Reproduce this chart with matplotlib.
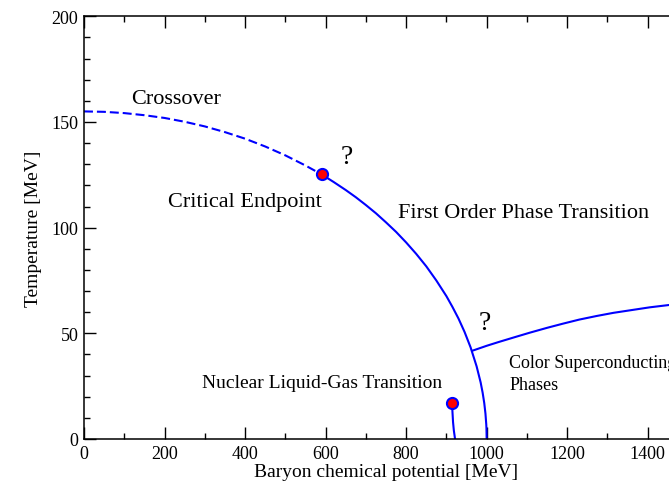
import matplotlib
matplotlib.use("Agg")
import matplotlib.pyplot as plt
from matplotlib.ticker import MultipleLocator

plt.rcParams["font.family"] = ["Liberation Serif", "DejaVu Serif"]

# crossover line (dashed) from mu=0 to the critical endpoint
cross_mu = [0, 50, 100, 150, 200, 250, 300, 350, 400, 450, 500, 550, 590]
cross_T = [155.0, 154.8, 154.2, 153.2, 151.9, 150.1, 147.9, 145.2, 142.1,
           138.4, 134.2, 129.4, 125.2]

# first order line from the critical endpoint down to the T=0 axis
first_mu = [590, 620, 650, 675, 700, 725, 750, 775, 800, 825, 850, 875, 900,
            915, 930, 945, 960, 975, 985, 990, 994, 997, 999, 999.5, 1000]
first_T = [125.2, 121.6, 117.8, 114.4, 110.7, 106.8, 102.5, 98.0, 93.0, 87.6,
           81.7, 75.0, 67.6, 62.5, 57.0, 50.7, 43.4, 34.4, 26.8, 21.9, 17.0,
           12.0, 6.9, 4.9, 0.0]

# boundary of the colour superconducting phases
csc_mu = [965, 1000, 1030, 1070, 1107, 1150, 1190, 1230, 1273, 1315, 1360,
          1405, 1453, 1500]
csc_T = [41.8, 44.1, 45.9, 48.2, 50.3, 52.6, 54.6, 56.5, 58.2, 59.7, 61.0,
         62.3, 63.4, 64.5]

# nuclear liquid-gas line
nuc_mu = [914, 915, 916.5, 918.5, 921.5]
nuc_T = [17.0, 13.0, 8.0, 4.0, 0.0]

# endpoints
crit_point = (590, 125.2)
nuc_point = (914, 17.0)

fig = plt.figure(figsize=(6.69, 4.85), dpi=100)
# the right edge of the frame runs off the figure
ax = fig.add_axes([84 / 669, 45 / 485, 604 / 669, 422.7 / 485])

blue = "#0000ff"
ax.plot(cross_mu, cross_T, color=blue, lw=1.5, linestyle=(0, (4.3, 1.9)))
ax.plot(first_mu, first_T, color=blue, lw=1.5)
ax.plot(csc_mu, csc_T, color=blue, lw=1.5)
ax.plot(nuc_mu, nuc_T, color=blue, lw=1.5)
for p in (crit_point, nuc_point):
    ax.plot(p[0], p[1], "o", ms=8, mfc="#ff0000", mec=blue, mew=1.5, zorder=5)

ax.set_xlim(0, 1500)
ax.set_ylim(0, 200)
ax.xaxis.set_major_locator(MultipleLocator(200))
ax.xaxis.set_minor_locator(MultipleLocator(100))
ax.yaxis.set_major_locator(MultipleLocator(50))
ax.yaxis.set_minor_locator(MultipleLocator(10))
ax.tick_params(which="both", direction="in", top=True, right=False,
               width=1.0, labelsize=13, pad=4)
ax.tick_params(which="major", length=8.6)
ax.tick_params(which="minor", length=4.3)
for s in ax.spines.values():
    s.set_linewidth(1.1)

ax.set_xlabel("Baryon chemical potential [MeV]", fontsize=14, labelpad=1)
ax.set_ylabel("Temperature [MeV]", fontsize=14, labelpad=7)

ax.text(117, 158.8, "Crossover", fontsize=16, va="baseline")
ax.text(209, 110.4, "Critical Endpoint", fontsize=16, va="baseline")
ax.text(780, 104.9, "First Order Phase Transition", fontsize=16, va="baseline")
ax.text(637, 130.4, "?", fontsize=20, va="baseline")
ax.text(979, 52.0, "?", fontsize=20, va="baseline")
ax.text(292, 24.7, "Nuclear Liquid-Gas Transition", fontsize=14, va="baseline")
ax.text(1056, 33.9, "Color Superconducting", fontsize=13, va="baseline")
ax.text(1056, 23.7, "Phases", fontsize=13, va="baseline")

fig.savefig("out.png", dpi=100)
